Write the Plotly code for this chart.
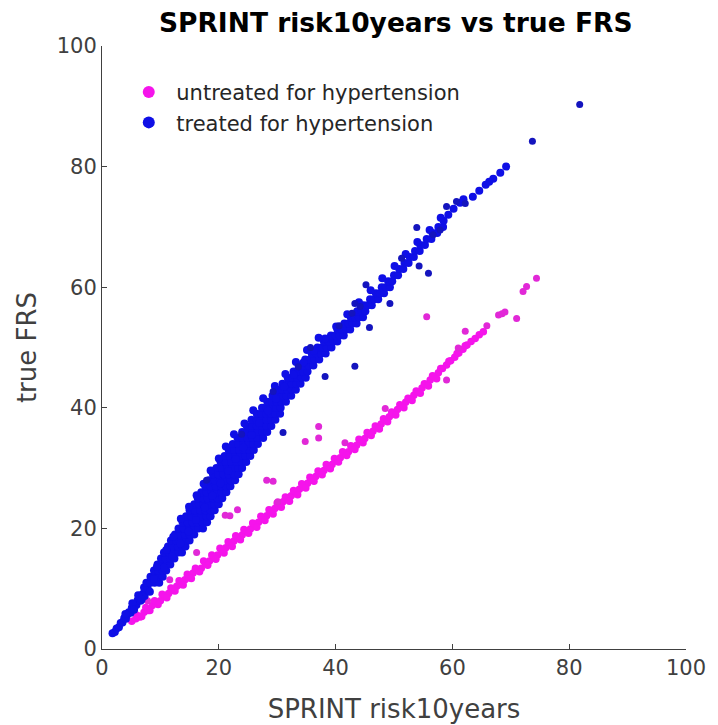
import plotly.graph_objects as go

# ---------------- data ----------------
# untreated for hypertension: (SPRINT risk10years, true FRS)
untreated_band_mid = [
    (5.1,4.6),(5.8,5.0),(6.5,5.3),(7.2,6.1),(7.9,6.4),(8.6,7.2),(9.3,7.6),(10.0,8.0),(10.7,8.8),
    (11.4,9.2),(12.1,9.7),(12.8,10.4),(13.5,10.7),(14.2,11.5),(14.9,11.8),(15.6,12.6),(16.3,13.1),
    (17.0,13.4),(17.7,14.2),(18.4,14.6),(19.1,15.3),(19.8,15.6),(20.5,16.4),(21.2,16.8),(21.9,17.3),
    (22.6,17.9),(23.3,18.4),(24.0,18.9),(24.7,19.6),(25.4,19.9),(26.1,20.6),(26.8,21.0),(27.5,21.7),
    (28.2,22.1),(28.9,22.7),(29.6,23.3),(30.3,23.7),(31.0,24.4),(31.7,24.8),(32.4,25.4),(33.1,25.9),
    (33.8,26.5),(34.5,26.9),(35.2,27.5),(35.9,28.0),(36.6,28.6),(37.3,29.1),(38.0,29.6),(38.7,30.2),
    (39.4,30.6),(40.1,31.2),(40.8,31.7),(41.5,32.3),(42.2,32.7),(42.9,33.3),(43.6,33.8),(44.3,34.4),
    (45.0,34.9),(45.7,35.6),(46.4,36.1),(47.1,36.7),(47.8,37.3),(48.5,37.9),(49.2,38.5),(49.9,39.0),
    (50.6,39.7),(51.3,40.2),(52.0,40.9),(52.7,41.4),(53.4,42.1),(54.1,42.6),(54.8,43.3),(55.5,43.9),
    (56.2,44.6),(56.9,45.2),(57.6,45.8),(58.3,46.5),(59.0,47.1),(59.7,47.8),(60.4,48.4),(61.1,49.1),
    (61.8,49.7),(62.5,50.4),(63.2,51.0),(63.9,51.5),(64.6,52.1),(65.3,52.6),
]
untreated_band_upper = [
    (6.0,5.6),(7.5,6.9),(9.0,8.0),(10.3,9.1),(11.8,10.1),(13.2,11.3),(14.6,12.4),(16.0,13.4),
    (17.4,14.6),(18.8,15.6),(20.2,16.7),(21.6,17.8),(22.9,18.8),(24.3,19.8),(25.8,20.9),(27.2,22.0),
    (28.6,23.1),(30.0,24.2),(31.4,25.2),(32.8,26.3),(34.2,27.4),(35.6,28.5),(37.0,29.5),(38.4,30.6),
    (39.8,31.6),(41.2,32.7),(42.6,33.7),(44.0,34.8),(45.4,35.9),(46.8,37.0),(48.2,38.2),(49.6,39.3),
    (51.0,40.5),(52.4,41.6),(53.8,42.8),(55.2,44.0),(56.6,45.3),(58.0,46.5),(59.4,47.7),(60.8,49.0),
    (62.2,50.3),
]
untreated_band_lower = [
    (6.8,5.4),(8.2,6.4),(9.6,7.4),(11.1,8.5),(12.5,9.6),(13.9,10.6),(15.3,11.7),(16.7,12.8),
    (18.1,13.9),(19.5,14.9),(20.9,15.9),(22.3,17.0),(23.7,18.1),(25.1,19.2),(26.5,20.2),(27.9,21.3),
    (29.3,22.4),(30.7,23.5),(32.1,24.5),(33.5,25.6),(34.9,26.7),(36.3,27.8),(37.7,28.9),(39.1,29.9),
    (40.5,31.0),(41.9,32.1),(43.3,33.1),(44.7,34.2),(46.1,35.4),(47.5,36.5),(48.9,37.7),(50.3,38.8),
    (51.7,40.0),(53.1,41.2),(54.5,42.4),(55.9,43.6),(57.3,44.8),
]
untreated_scattered = [
    (7.8,8.0),(11.6,11.5),(16.2,16.0),(21.1,22.2),(21.9,22.1),(23.2,23.1),(28.2,28.0),(29.3,27.8),
    (30.1,24.4),(34.8,34.4),(37.1,36.9),(37.1,35.0),(41.6,34.2),(48.5,39.9),(55.6,55.1),(59.0,44.6),
    (61.0,49.9),(62.2,52.7),(65.9,53.6),(67.9,55.4),(68.5,55.6),(69.0,55.9),(71.0,54.8),(72.1,59.3),
    (72.7,60.1),(74.4,61.5),
]

# treated for hypertension: (SPRINT risk10years, true FRS)
treated_low = [
    (1.8,2.6),(2.2,2.8),(2.5,3.4),(2.9,3.6),(3.2,4.3),(3.5,4.4),(3.8,5.1),(4.1,5.0),(4.3,5.7),
    (4.6,6.1),(4.9,6.0),(5.1,6.8),(5.4,7.0),(5.6,7.4),(5.9,7.3),(6.1,8.1),(6.4,8.3),(6.6,8.0),
    (6.9,9.0),(7.1,9.2),(7.3,8.8),(7.6,9.9),(7.8,10.1),(8.0,9.6),(4.0,5.8),(5.2,7.6),(6.2,8.9),
    (7.2,10.2),(5.5,6.5),(6.8,8.2),(8.2,9.5),
]
# rows of the dense band: true FRS level -> SPRINT risk values seen on that row
treated_rows_frs = [11, 12, 13, 14, 15, 16, 17, 18, 19, 20, 21, 22, 23, 24, 25, 26, 27, 28, 29, 30,
                    31, 32, 33, 34, 35, 36, 37, 38, 39, 40, 41, 42, 43, 44, 45, 46, 47, 48, 49, 50,
                    51, 52, 53, 54, 55, 56, 57, 58, 59, 60, 61, 62, 63, 64, 65, 66, 67, 68, 69, 70,
                    71, 72, 73, 74, 75, 76, 77, 78, 79, 80]
treated_rows_risk = [
    [7.6, 8.3, 9.0, 9.8], [8.3, 9.0, 9.7, 10.4], [8.9, 9.6, 10.4, 11.0], [9.5, 10.2, 11.0, 11.7],
    [10.1, 10.9, 11.7, 12.4], [10.6, 11.5, 12.3, 13.1, 13.7], [11.3, 12.1, 13.0, 13.8, 14.3],
    [11.8, 12.7, 13.6, 14.4, 15.0], [12.5, 13.3, 14.2, 15.0, 15.8], [13.1, 14.0, 14.9, 15.7, 16.5, 17.3],
    [13.8, 14.6, 15.5, 16.3, 17.2, 18.0], [14.4, 15.3, 16.2, 17.0, 17.9, 18.6],
    [15.0, 15.9, 16.8, 17.7, 18.6, 19.3], [15.8, 16.6, 17.4, 18.3, 19.2, 20.0],
    [16.4, 17.3, 18.1, 19.0, 19.8, 20.6], [17.0, 17.9, 18.8, 19.7, 20.5, 21.3],
    [17.7, 18.6, 19.5, 20.4, 21.2, 22.0], [18.3, 19.3, 20.2, 21.1, 22.0, 22.8],
    [19.0, 19.9, 20.8, 21.7, 22.6, 23.4], [19.6, 20.5, 21.4, 22.3, 23.3, 24.0],
    [20.3, 21.2, 22.1, 23.0, 23.9, 24.7], [21.0, 21.9, 22.8, 23.7, 24.6, 25.4],
    [21.7, 22.6, 23.5, 24.3, 25.2, 26.0], [22.4, 23.3, 24.2, 25.0, 25.9, 26.7],
    [23.2, 24.0, 24.9, 25.8, 26.6, 27.6], [24.0, 24.8, 25.7, 26.6, 27.5, 28.3],
    [24.8, 25.7, 26.5, 27.4, 28.2, 29.0], [25.6, 26.5, 27.3, 28.1, 29.0, 29.7],
    [26.5, 27.3, 28.1, 28.9, 29.7, 30.5], [27.4, 28.2, 29.0, 29.8, 30.6],
    [28.3, 29.1, 29.9, 30.7, 31.5], [29.2, 30.0, 30.8, 31.6, 32.4], [30.1, 30.9, 31.7, 32.5, 33.2],
    [30.9, 31.7, 32.5, 33.3, 34.0], [31.8, 32.6, 33.4, 34.2, 34.9], [32.8, 33.6, 34.4, 35.2],
    [33.8, 34.6, 35.4, 36.2], [34.8, 35.6, 36.4, 37.2], [35.9, 36.7, 37.5, 38.3],
    [36.9, 37.7, 38.5, 39.3], [38.0, 38.8, 39.6, 40.3], [39.2, 40.0, 40.7, 41.4],
    [40.3, 41.0, 41.8, 42.5], [41.5, 42.2, 42.9, 43.6], [42.6, 43.3, 44.0, 44.7],
    [43.7, 44.4, 45.1], [44.8, 45.5, 46.2], [45.9, 46.6, 47.3], [46.9, 47.6, 48.3], [47.9, 48.6, 49.3],
    [49.0, 49.7], [50.0, 50.7], [50.9, 51.6], [51.8, 52.5], [52.7, 53.4], [53.6, 54.4], [54.5, 55.3],
    [55.6, 56.4], [56.6, 57.4], [57.6, 58.4], [58.5], [59.3], [60.2], [61.3], [63.5], [64.6], [65.7],
    [67.0], [68.2], [69.2],
]
# extra points sitting between the rows (ragged edges of the band)
treated_between = [
    (8.9,11.6),(10.6,13.5),(12.0,15.4),(9.4,13.6),(13.4,17.5),(11.0,16.4),(14.8,19.5),(12.2,18.6),
    (16.1,21.4),(13.5,21.6),(17.6,23.5),(14.9,23.6),(18.9,25.4),(16.2,25.5),(20.3,27.5),(17.4,27.4),
    (21.6,29.5),(18.6,29.6),(22.9,31.5),(20.0,31.6),(24.2,33.4),(21.2,33.6),(25.6,35.5),(22.6,35.6),
    (26.9,37.5),(24.4,37.4),(28.4,39.5),(25.9,39.6),(29.8,41.5),(27.6,41.6),(31.2,43.5),(29.6,43.6),
    (32.8,45.5),(31.4,45.6),(34.5,47.5),(33.2,47.6),(36.3,49.5),(35.1,49.6),(38.2,51.5),(37.1,51.6),
    (40.1,53.5),(42.0,55.5),(44.0,57.5),(46.0,59.5),(48.0,61.5),(50.1,63.5),(52.0,65.5),(54.0,67.5),
    (56.1,69.5),(58.0,71.5),(61.9,74.6),(66.3,77.5),
]
treated_scattered = [
    (31.0,35.9),(23.9,35.6),(17.9,28.0),(45.2,60.4),(43.3,57.3),(40.6,53.6),(45.8,53.3),(35.7,50.0),
    (33.6,46.8),(43.3,46.9),(38.2,45.2),(29.3,42.7),(53.9,69.9),(55.9,62.3),(54.3,63.5),(49.3,57.3),
    (51.3,64.8),(57.9,69.5),(56.7,68.7),(60.7,74.2),(59.0,73.4),(62.2,73.9),(42.8,55.7),(44.2,56.8),
    (73.7,84.2),(81.8,90.3),
]

x_ticks = [0, 20, 40, 60, 80, 100]
y_ticks = [0, 20, 40, 60, 80, 100]

# ---------------- assemble ----------------
untreated_dense = untreated_band_mid + untreated_band_upper + untreated_band_lower

treated_dense = list(treated_low)
for frs, risks in zip(treated_rows_frs, treated_rows_risk):
    for r in risks:
        treated_dense.append((r, frs))
treated_dense += treated_between

FONT = "DejaVu Sans"
AXC = "#404040"
MAG = "rgb(245,20,235)"
BLU = "rgb(15,15,230)"


def xs(pts):
    return [p[0] for p in pts]


def ys(pts):
    return [p[1] for p in pts]


fig = go.Figure()
fig.add_trace(go.Scatter(x=xs(untreated_dense), y=ys(untreated_dense), mode="markers",
                         name="untreated for hypertension", legendgroup="u",
                         marker=dict(color=MAG, size=7.5, line=dict(width=0))))
fig.add_trace(go.Scatter(x=xs(untreated_scattered), y=ys(untreated_scattered), mode="markers",
                         name="untreated for hypertension", legendgroup="u", showlegend=False,
                         marker=dict(color="rgb(225,40,215)", size=7, line=dict(width=0))))
fig.add_trace(go.Scatter(x=xs(treated_dense), y=ys(treated_dense), mode="markers",
                         name="treated for hypertension", legendgroup="t",
                         marker=dict(color=BLU, size=8, line=dict(width=0))))
fig.add_trace(go.Scatter(x=xs(treated_scattered), y=ys(treated_scattered), mode="markers",
                         name="treated for hypertension", legendgroup="t", showlegend=False,
                         marker=dict(color="rgb(20,20,190)", size=7, line=dict(width=0))))

axis_common = dict(range=[0, 100], showgrid=False, zeroline=False, showline=True,
                   linecolor=AXC, linewidth=1, ticks="inside", ticklen=5, tickcolor=AXC,
                   tickfont=dict(family=FONT, size=21, color=AXC), mirror=False)

fig.update_layout(
    width=718, height=725,
    margin=dict(l=94, r=40, t=38, b=84),
    paper_bgcolor="white", plot_bgcolor="white",
    title=dict(text="<b>SPRINT risk10years vs true FRS</b>", x=0.54, xanchor="center",
               y=0.98, yanchor="middle",
               font=dict(family=FONT, size=26.5, color="black")),
    xaxis=dict(**axis_common, tickvals=x_ticks,
               title=dict(text="SPRINT risk10years", font=dict(family=FONT, size=26, color=AXC),
                          standoff=20)),
    yaxis=dict(**axis_common, tickvals=y_ticks,
               title=dict(text="true FRS", font=dict(family=FONT, size=26, color=AXC),
                          standoff=12)),
    legend=dict(x=0.033, y=0.957, xanchor="left", yanchor="top",
                font=dict(family=FONT, size=21, color="#262626"),
                bgcolor="rgba(255,255,255,0)", itemsizing="constant", itemwidth=45,
                tracegroupgap=0),
    showlegend=True,
)

fig.write_html("out.html")
